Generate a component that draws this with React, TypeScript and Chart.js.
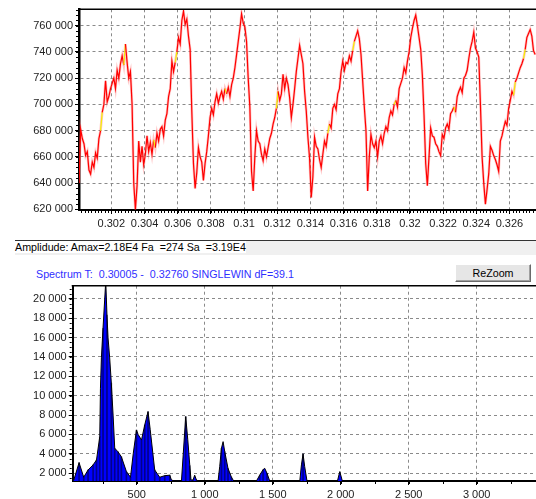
import React, { useEffect, useRef } from 'react';
import { Chart, registerables } from 'chart.js';

Chart.register(...registerables);

// ---------- Top chart: time signal ----------
const timeStart = 0.30005;
const timeStep = 0.0001;
const timeMin = 0.30005;
const timeMax = 0.3276;
const timeTickStep = 0.002;
const ampMin = 619500;
const ampMax = 772500;
const ampTickStep = 20000;

const amplitude = [
  640000, 681000, 674000, 670000, 661000, 664000, 650000, 647000, 656000, 652000,
  663000, 659000, 674000, 680000, 694000, 700000, 718000, 702000, 706000, 712000,
  716000, 720000, 712000, 726000, 720000, 731000, 737000, 730000, 746000, 732000,
  720000, 725000, 700000, 640000, 620000, 638000, 672000, 656000, 668000, 654000,
  662000, 676000, 664000, 671000, 662000, 673000, 667000, 678000, 672000, 681000,
  683000, 676000, 688000, 693000, 706000, 712000, 733000, 725000, 732000, 740000,
  751000, 746000, 764000, 771000, 761000, 765000, 752000, 742000, 695000, 655000,
  636000, 648000, 667000, 660000, 656000, 642000, 655000, 664000, 676000, 690000,
  697000, 692000, 702000, 708000, 701000, 706000, 710000, 704000, 712000, 708000,
  713000, 706000, 715000, 720000, 728000, 738000, 748000, 758000, 769000, 762000,
  759000, 748000, 720000, 698000, 649000, 634000, 660000, 680000, 672000, 670000,
  662000, 657000, 666000, 660000, 667000, 674000, 678000, 685000, 690000, 697000,
  710000, 703000, 708000, 723000, 712000, 720000, 715000, 705000, 690000, 700000,
  712000, 725000, 735000, 745000, 738000, 731000, 710000, 695000, 675000, 659000,
  629000, 645000, 675000, 668000, 666000, 658000, 652000, 662000, 672000, 668000,
  678000, 685000, 682000, 697000, 700000, 696000, 708000, 712000, 725000, 733000,
  726000, 732000, 731000, 737000, 733000, 741000, 748000, 752000, 756000, 750000,
  738000, 718000, 698000, 680000, 634000, 660000, 677000, 670000, 667000, 672000,
  660000, 672000, 676000, 670000, 678000, 683000, 680000, 690000, 695000, 692000,
  700000, 703000, 698000, 712000, 716000, 720000, 728000, 724000, 733000, 740000,
  751000, 758000, 764000, 768000, 760000, 751000, 742000, 722000, 692000, 655000,
  638000, 660000, 682000, 676000, 675000, 670000, 668000, 664000, 661000, 677000,
  674000, 682000, 685000, 681000, 693000, 695000, 698000, 694000, 706000, 710000,
  713000, 709000, 720000, 722000, 726000, 735000, 743000, 748000, 755000, 743000,
  740000, 736000, 700000, 660000, 640000, 624000, 635000, 647000, 668000, 665000,
  661000, 658000, 654000, 649000, 672000, 676000, 682000, 687000, 684000, 697000,
  703000, 710000, 707000, 717000, 720000, 724000, 728000, 731000, 735000, 742000,
  751000, 754000, 757000, 752000, 741000, 738000,
];

const yellowSegments = [13, 27, 45, 58, 88, 119, 150, 165, 190, 226, 262, 268];

// ---------- Bottom chart: spectrum ----------
const freqMin = 29;
const freqMax = 3436;
const freqTickStep = 500;
const specMin = 1200;
const specMax = 21340;
const specTickStep = 2000;

const specFreq = [
  27, 37, 76, 110, 142, 179, 204, 228, 233, 240,
  252, 272, 281, 289, 301, 313, 326, 338, 363, 387,
  424, 454, 474, 498, 510, 535, 559, 583, 599, 632,
  669, 706, 743, 755, 779, 829, 842, 860, 875, 890,
  899, 914, 926, 939, 949, 1098, 1110, 1123, 1135, 1147,
  1171, 1196, 1213, 1380, 1404, 1429, 1441, 1458, 1478, 1699,
  1711, 1723, 1735, 1752, 1976, 1993, 2012, 3436,
];
const specAmp = [
  1200, 1300, 3090, 1590, 2340, 2860, 3370, 5770, 10760, 13900,
  16950, 21800, 18320, 15950, 13890, 11300, 8000, 4580, 4200, 3700,
  2170, 1590, 4000, 6460, 6000, 5430, 7000, 8350, 6500, 2340,
  1590, 1750, 1800, 1300, 1200, 1250, 4000, 7840, 5500, 2800,
  1300, 1300, 1800, 1300, 1200, 1200, 2680, 4580, 5260, 4230,
  2510, 1600, 1200, 1200, 1800, 2370, 2510, 1990, 1200, 1200,
  2860, 3990, 2680, 1200, 1200, 2170, 1200, 1200,
];

const amplitudeLabel = 'Amplidude: Amax=2.18E4 Fa  =274 Sa  =3.19E4';
const spectrumHeader = 'Spectrum T:  0.30005 -  0.32760 SINGLEWIN dF=39.1';
const buttonLabel = 'ReZoom';

const FONT = "'Liberation Sans', Arial, sans-serif";

const fmtThousands = (v: number) =>
  Math.round(v).toString().replace(/\B(?=(\d{3})+(?!\d))/g, ' ');
const fmtTime = (v: number) => parseFloat(Number(v).toFixed(4)).toString();

function stepTicks(min: number, max: number, step: number) {
  const out: { value: number }[] = [];
  const i0 = Math.ceil(min / step - 1e-9);
  const i1 = Math.floor(max / step + 1e-9);
  for (let i = i0; i <= i1; i++) out.push({ value: +(i * step).toFixed(10) });
  return out;
}

function makeFramePlugin(cfg: { xStep: number; yStep: number; topWidth: number }) {
  return {
    id: 'frame',
    afterDraw(chart: any) {
      const { ctx, chartArea: a, scales } = chart;
      const xs = scales.x;
      const ys = scales.y;
      ctx.save();
      ctx.strokeStyle = '#000';
      ctx.lineWidth = cfg.topWidth;
      ctx.beginPath();
      ctx.moveTo(a.left - 1, a.top);
      ctx.lineTo(a.right, a.top);
      ctx.stroke();
      ctx.lineWidth = 1;
      ctx.beginPath();
      for (const t of stepTicks(xs.min, xs.max, cfg.xStep)) {
        const px = Math.round(xs.getPixelForValue(t.value)) + 0.5;
        ctx.moveTo(px, a.bottom + 1);
        ctx.lineTo(px, a.bottom + 3);
      }
      for (const t of stepTicks(ys.min, ys.max, cfg.yStep)) {
        const py = Math.round(ys.getPixelForValue(t.value)) + 0.5;
        ctx.moveTo(a.left - 3, py);
        ctx.lineTo(a.left - 1, py);
      }
      ctx.stroke();
      ctx.restore();
    },
  };
}

const tickFont = { family: FONT, size: 11 };

function axis(min: number, max: number, step: number, fmt: (v: number) => string, isX: boolean, size: number, borderW: number) {
  return {
    type: 'linear',
    min,
    max,
    offset: false,
    beginAtZero: false,
    ticks: {
      stepSize: step,
      includeBounds: false,
      autoSkip: false,
      maxRotation: 0,
      callback: (v: any) => fmt(v),
      color: '#222',
      font: tickFont,
      padding: isX ? 3 : 2,
    },
    grid: { color: '#8a8a8a', lineWidth: 1, tickLength: 4, tickColor: '#000', offset: false },
    border: { display: true, color: '#000', width: borderW, dash: [3, 3] },
    afterBuildTicks: (s: any) => {
      s.ticks = stepTicks(min, max, step);
    },
    afterFit: (s: any) => {
      if (isX) s.height = size;
      else s.width = size;
      s.paddingLeft = 0;
      s.paddingRight = 0;
      s.paddingTop = 0;
      s.paddingBottom = 0;
    },
  };
}

export default function App() {
  const topRef = useRef<HTMLCanvasElement | null>(null);
  const botRef = useRef<HTMLCanvasElement | null>(null);

  useEffect(() => {
    Chart.defaults.font.family = FONT;
    const yellowSet = new Set(yellowSegments);
    const signal = amplitude.map((v, i) => ({ x: timeStart + i * timeStep, y: v }));

    const top = new Chart(topRef.current as HTMLCanvasElement, {
      type: 'line',
      data: {
        datasets: [
          {
            data: signal,
            borderColor: '#ff0000',
            borderWidth: 1.2,
            pointRadius: 0,
            tension: 0,
            order: 0,
            segment: {
              borderColor: (c: any) => (yellowSet.has(c.p0DataIndex) ? '#f5f000' : undefined),
            },
          } as any,
          {
            data: signal,
            borderColor: 'rgba(255,90,90,0.35)',
            borderWidth: 2.6,
            pointRadius: 0,
            tension: 0,
            order: 1,
          },
        ],
      },
      options: {
        animation: false,
        responsive: false,
        maintainAspectRatio: false,
        layout: { padding: { top: 9.3, left: 0, right: 0, bottom: 0 } },
        plugins: { legend: { display: false }, tooltip: { enabled: false } },
        scales: {
          x: axis(timeMin, timeMax, timeTickStep, fmtTime, true, 22, 2),
          y: axis(ampMin, ampMax, ampTickStep, fmtThousands, false, 79, 2.5),
        },
      } as any,
      plugins: [makeFramePlugin({ xStep: 0.0002, yStep: 4000, topWidth: 1.5 })],
    });

    const spectrum = specFreq.map((f, i) => ({ x: f, y: specAmp[i] }));
    // vertical hatch lines: keep only keypoints that are at least ~3 px apart
    const stripes: { x: number; y: number }[] = [];
    let lastF = -1e9;
    spectrum.forEach((p) => {
      if (p.x - lastF >= 22) {
        stripes.push(p);
        lastF = p.x;
      }
    });

    const bot = new Chart(botRef.current as HTMLCanvasElement, {
      type: 'line',
      data: {
        datasets: [
          {
            type: 'line',
            data: spectrum,
            borderColor: '#000',
            borderWidth: 1,
            backgroundColor: '#0000ff',
            fill: 'start',
            pointRadius: 0,
            tension: 0,
            order: 0,
          },
          {
            type: 'bar',
            data: stripes,
            backgroundColor: 'rgba(0,0,60,0.6)',
            barThickness: 1,
            order: 1,
          } as any,
        ],
      },
      options: {
        animation: false,
        responsive: false,
        maintainAspectRatio: false,
        layout: { padding: { top: 2.7, left: 0, right: 0, bottom: 0 } },
        plugins: {
          legend: { display: false },
          tooltip: { enabled: false },
          filler: { drawTime: 'beforeDatasetsDraw' },
        },
        scales: {
          x: axis(freqMin, freqMax, freqTickStep, fmtThousands, true, 18, 2),
          y: axis(specMin, specMax, specTickStep, fmtThousands, false, 72.7, 2),
        },
      } as any,
      plugins: [makeFramePlugin({ xStep: 250, yStep: 500, topWidth: 1.5 })],
    });

    return () => {
      top.destroy();
      bot.destroy();
    };
  }, []);

  const textStyle: React.CSSProperties = {
    position: 'absolute',
    fontFamily: FONT,
    fontSize: '10.7px',
    whiteSpace: 'pre',
  };

  return (
    <div
      style={{
        position: 'fixed',
        left: 0,
        top: 0,
        width: 536,
        height: 499,
        overflow: 'hidden',
        background: '#fff',
      }}
    >
      <canvas ref={topRef} width={536} height={232} style={{ position: 'absolute', left: 0, top: 0 }} />
      <div
        style={{
          position: 'absolute',
          left: 15,
          top: 240,
          width: 521,
          height: 15,
          background: '#f0f0f0',
          borderTop: '1px solid #333',
          boxSizing: 'border-box',
        }}
      />
      <div style={{ ...textStyle, left: 15, top: 241, height: 12, lineHeight: '12px', background: '#fff', color: '#000' }}>
        {amplitudeLabel}
      </div>
      <div style={{ ...textStyle, left: 36, top: 267, lineHeight: '14px', color: '#3030ff' }}>{spectrumHeader}</div>
      <div
        style={{
          position: 'absolute',
          left: 455,
          top: 264,
          width: 76,
          height: 18,
          boxSizing: 'border-box',
          background: '#e6e6e6',
          borderStyle: 'solid',
          borderWidth: 1,
          borderColor: '#ffffff #6a6a6a #6a6a6a #ffffff',
          boxShadow: 'inset -1px -1px 0 #a0a0a0',
          fontFamily: FONT,
          fontSize: '10.7px',
          lineHeight: '16px',
          textAlign: 'center',
          color: '#000',
        }}
      >
        {buttonLabel}
      </div>
      <canvas ref={botRef} width={536} height={216} style={{ position: 'absolute', left: 0, top: 283 }} />
    </div>
  );
}
